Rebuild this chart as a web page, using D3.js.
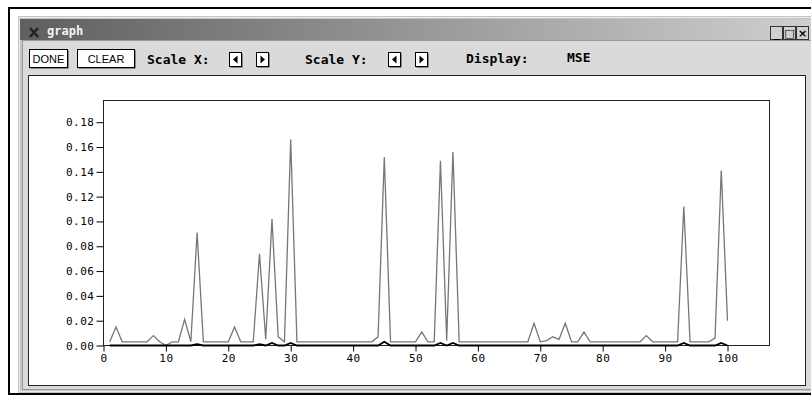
<!DOCTYPE html>
<html>
<head>
<meta charset="utf-8">
<script src="https://cdn.jsdelivr.net/npm/d3@7"></script>
<style>
  html, body { margin: 0; padding: 0; background: #fff; }
  svg { display: block; }
  .mono { font-family: "DejaVu Sans Mono", "Liberation Mono", monospace; }
</style>
</head>
<body>
<svg id="chart" width="811" height="398"></svg>
<script>
// ---- data ----
const xValues = d3.range(1, 101);
const mseGray = [
  0.003, 0.015, 0.003, 0.003, 0.003, 0.003, 0.003, 0.008, 0.003, 0.000,
  0.003, 0.003, 0.021, 0.003, 0.091, 0.003, 0.003, 0.003, 0.003, 0.003,
  0.015, 0.003, 0.003, 0.003, 0.074, 0.005, 0.102, 0.007, 0.003, 0.166,
  0.003, 0.003, 0.003, 0.003, 0.003, 0.003, 0.003, 0.003, 0.003, 0.003,
  0.003, 0.003, 0.003, 0.007, 0.152, 0.003, 0.003, 0.003, 0.003, 0.003,
  0.011, 0.003, 0.003, 0.149, 0.004, 0.156, 0.003, 0.003, 0.003, 0.003,
  0.003, 0.003, 0.003, 0.003, 0.003, 0.003, 0.003, 0.003, 0.018, 0.003,
  0.004, 0.007, 0.005, 0.018, 0.003, 0.003, 0.011, 0.003, 0.003, 0.003,
  0.003, 0.003, 0.003, 0.003, 0.003, 0.003, 0.008, 0.003, 0.003, 0.003,
  0.003, 0.003, 0.112, 0.003, 0.003, 0.003, 0.003, 0.006, 0.141, 0.020
];
const mseBlack = [
  0, 0, 0, 0, 0, 0, 0, 0, 0, 0,
  0, 0, 0, 0, 0.001, 0, 0, 0, 0, 0,
  0, 0, 0, 0, 0.001, 0, 0.002, 0, 0, 0.002,
  0, 0, 0, 0, 0, 0, 0, 0, 0, 0,
  0, 0, 0, 0, 0.003, 0, 0, 0, 0, 0,
  0, 0, 0, 0.002, 0, 0.002, 0, 0, 0, 0,
  0, 0, 0, 0, 0, 0, 0, 0, 0, 0,
  0, 0, 0, 0, 0, 0, 0, 0, 0, 0,
  0, 0, 0, 0, 0, 0, 0, 0, 0, 0,
  0, 0, 0.002, 0, 0, 0, 0, 0, 0.002, 0
];
const xTicks = [0, 10, 20, 30, 40, 50, 60, 70, 80, 90, 100];
const yTicks = [0.00, 0.02, 0.04, 0.06, 0.08, 0.10, 0.12, 0.14, 0.16, 0.18];
const windowTitle = "graph";
const displayValue = "MSE";

// ---- layout ----
const svg = d3.select("#chart");
const W = 811, H = 398;
const plot = { left: 103, right: 769, top: 100, bottom: 345, xEnd: 727 };

// ---- window chrome ----
const defs = svg.append("defs");
const grad = defs.append("linearGradient").attr("id", "titleGrad")
  .attr("x1", "0%").attr("x2", "100%");
grad.append("stop").attr("offset", "0%").attr("stop-color", "#5f5f5f");
grad.append("stop").attr("offset", "100%").attr("stop-color", "#cfcfcf");

svg.append("rect").attr("width", W).attr("height", H).attr("fill", "#fff");
// outer black frame
svg.append("rect").attr("x", 9).attr("y", 8).attr("width", W + 10).attr("height", 386)
  .attr("fill", "none").attr("stroke", "#000").attr("stroke-width", 2);
// window body
svg.append("rect").attr("x", 18).attr("y", 16).attr("width", W).attr("height", 377)
  .attr("fill", "#c4c4c4");
svg.append("rect").attr("x", 19.5).attr("y", 17.5).attr("width", W).attr("height", 374)
  .attr("fill", "none").attr("stroke", "#ececec").attr("stroke-width", 1);
svg.append("rect").attr("x", 22.5).attr("y", 40.5).attr("width", W).attr("height", 349)
  .attr("fill", "#dadada").attr("stroke", "#9a9a9a");
// title bar
svg.append("rect").attr("x", 20).attr("y", 19).attr("width", W - 20).attr("height", 21)
  .attr("fill", "url(#titleGrad)");
// X icon
svg.append("path").attr("d", "M30,28 L38,37 M38,28 L30,37")
  .attr("stroke", "#222").attr("stroke-width", 2.4);
svg.append("text").attr("x", 47).attr("y", 35).attr("class", "mono")
  .attr("font-size", 12).attr("font-weight", "bold").attr("fill", "#f4f4f4")
  .text(windowTitle);
// window controls
const ctrls = [{ x: 770, g: "_" }, { x: 783, g: "□" }, { x: 796, g: "×" }];
ctrls.forEach(c => {
  svg.append("rect").attr("x", c.x + 0.5).attr("y", 26.5).attr("width", 12).attr("height", 13)
    .attr("fill", "#d0d0d0").attr("stroke", "#333");
  svg.append("text").attr("x", c.x + 6.5).attr("y", 37).attr("text-anchor", "middle")
    .attr("font-family", "DejaVu Sans").attr("font-size", 11).attr("font-weight", "bold")
    .attr("fill", "#000").text(c.g);
});

// toolbar
function button(x, w, label) {
  svg.append("rect").attr("x", x + 1.5).attr("y", 50.5).attr("width", w).attr("height", 18)
    .attr("fill", "#333");
  svg.append("rect").attr("x", x + 0.5).attr("y", 49.5).attr("width", w).attr("height", 18)
    .attr("fill", "#fff").attr("stroke", "#000");
  svg.append("text").attr("x", x + w / 2 + 0.5).attr("y", 63).attr("text-anchor", "middle")
    .attr("font-family", "Liberation Sans, Arial, sans-serif").attr("font-size", 11)
    .attr("fill", "#000").text(label);
}
button(29, 38, "DONE");
button(77, 57, "CLEAR");

function arrowBtn(x, dir) {
  svg.append("rect").attr("x", x + 1.5).attr("y", 53.5).attr("width", 12).attr("height", 14)
    .attr("fill", "#333");
  svg.append("rect").attr("x", x + 0.5).attr("y", 52.5).attr("width", 12).attr("height", 14)
    .attr("fill", "#fff").attr("stroke", "#000");
  const cx = x + 6.5, cy = 59.5;
  const p = dir < 0
    ? `M${cx + 2},${cy - 4} L${cx - 2.5},${cy} L${cx + 2},${cy + 4} Z`
    : `M${cx - 2},${cy - 4} L${cx + 2.5},${cy} L${cx - 2},${cy + 4} Z`;
  svg.append("path").attr("d", p).attr("fill", "#000");
}
const labelStyle = sel => sel.attr("class", "mono").attr("font-size", 13)
  .attr("font-weight", "bold").attr("fill", "#000");
svg.append("text").attr("x", 147).attr("y", 64).call(labelStyle).text("Scale X:");
arrowBtn(229, -1); arrowBtn(256, 1);
svg.append("text").attr("x", 305).attr("y", 64).call(labelStyle).text("Scale Y:");
arrowBtn(388, -1); arrowBtn(415, 1);
svg.append("text").attr("x", 466).attr("y", 63).call(labelStyle).text("Display:");
svg.append("text").attr("x", 567).attr("y", 62).call(labelStyle).text(displayValue);

// canvas
svg.append("rect").attr("x", 28.5).attr("y", 75.5).attr("width", 777).attr("height", 310)
  .attr("fill", "#fff").attr("stroke", "#222");

// ---- scales ----
const x = d3.scaleLinear().domain([0, 100]).range([plot.left, plot.xEnd]);
const y = d3.scaleLinear().domain([0, 0.1975]).range([plot.bottom, plot.top]);

// frame
svg.append("rect").attr("x", plot.left + 0.5).attr("y", plot.top + 0.5)
  .attr("width", plot.right - plot.left).attr("height", plot.bottom - plot.top)
  .attr("fill", "none").attr("stroke", "#222");

// axes
const yAxis = d3.axisLeft(y).tickValues(yTicks).tickFormat(d3.format(".2f"))
  .tickSize(7).tickPadding(2);
const gy = svg.append("g").attr("transform", `translate(${plot.left + 0.5},0.5)`).call(yAxis);
const xAxis = d3.axisBottom(x).tickValues(xTicks).tickFormat(d3.format("d"))
  .tickSize(6).tickPadding(3);
const gx = svg.append("g").attr("transform", `translate(0.5,${plot.bottom + 0.5})`).call(xAxis);
[gx, gy].forEach(g => {
  g.select(".domain").remove();
  g.selectAll("line").attr("stroke", "#000");
  g.selectAll("text").attr("class", "mono").attr("font-size", 11)
    .attr("letter-spacing", "0.5px").attr("fill", "#000");
});

// lines
const line = d3.line().x((d, i) => x(xValues[i]) + 0.5).y(d => y(d) + 0.5);
svg.append("path").datum(mseGray).attr("d", line)
  .attr("fill", "none").attr("stroke", "#777").attr("stroke-width", 1.3);
svg.append("path").datum(mseBlack).attr("d", line)
  .attr("fill", "none").attr("stroke", "#000").attr("stroke-width", 1.8);
</script>
</body>
</html>
